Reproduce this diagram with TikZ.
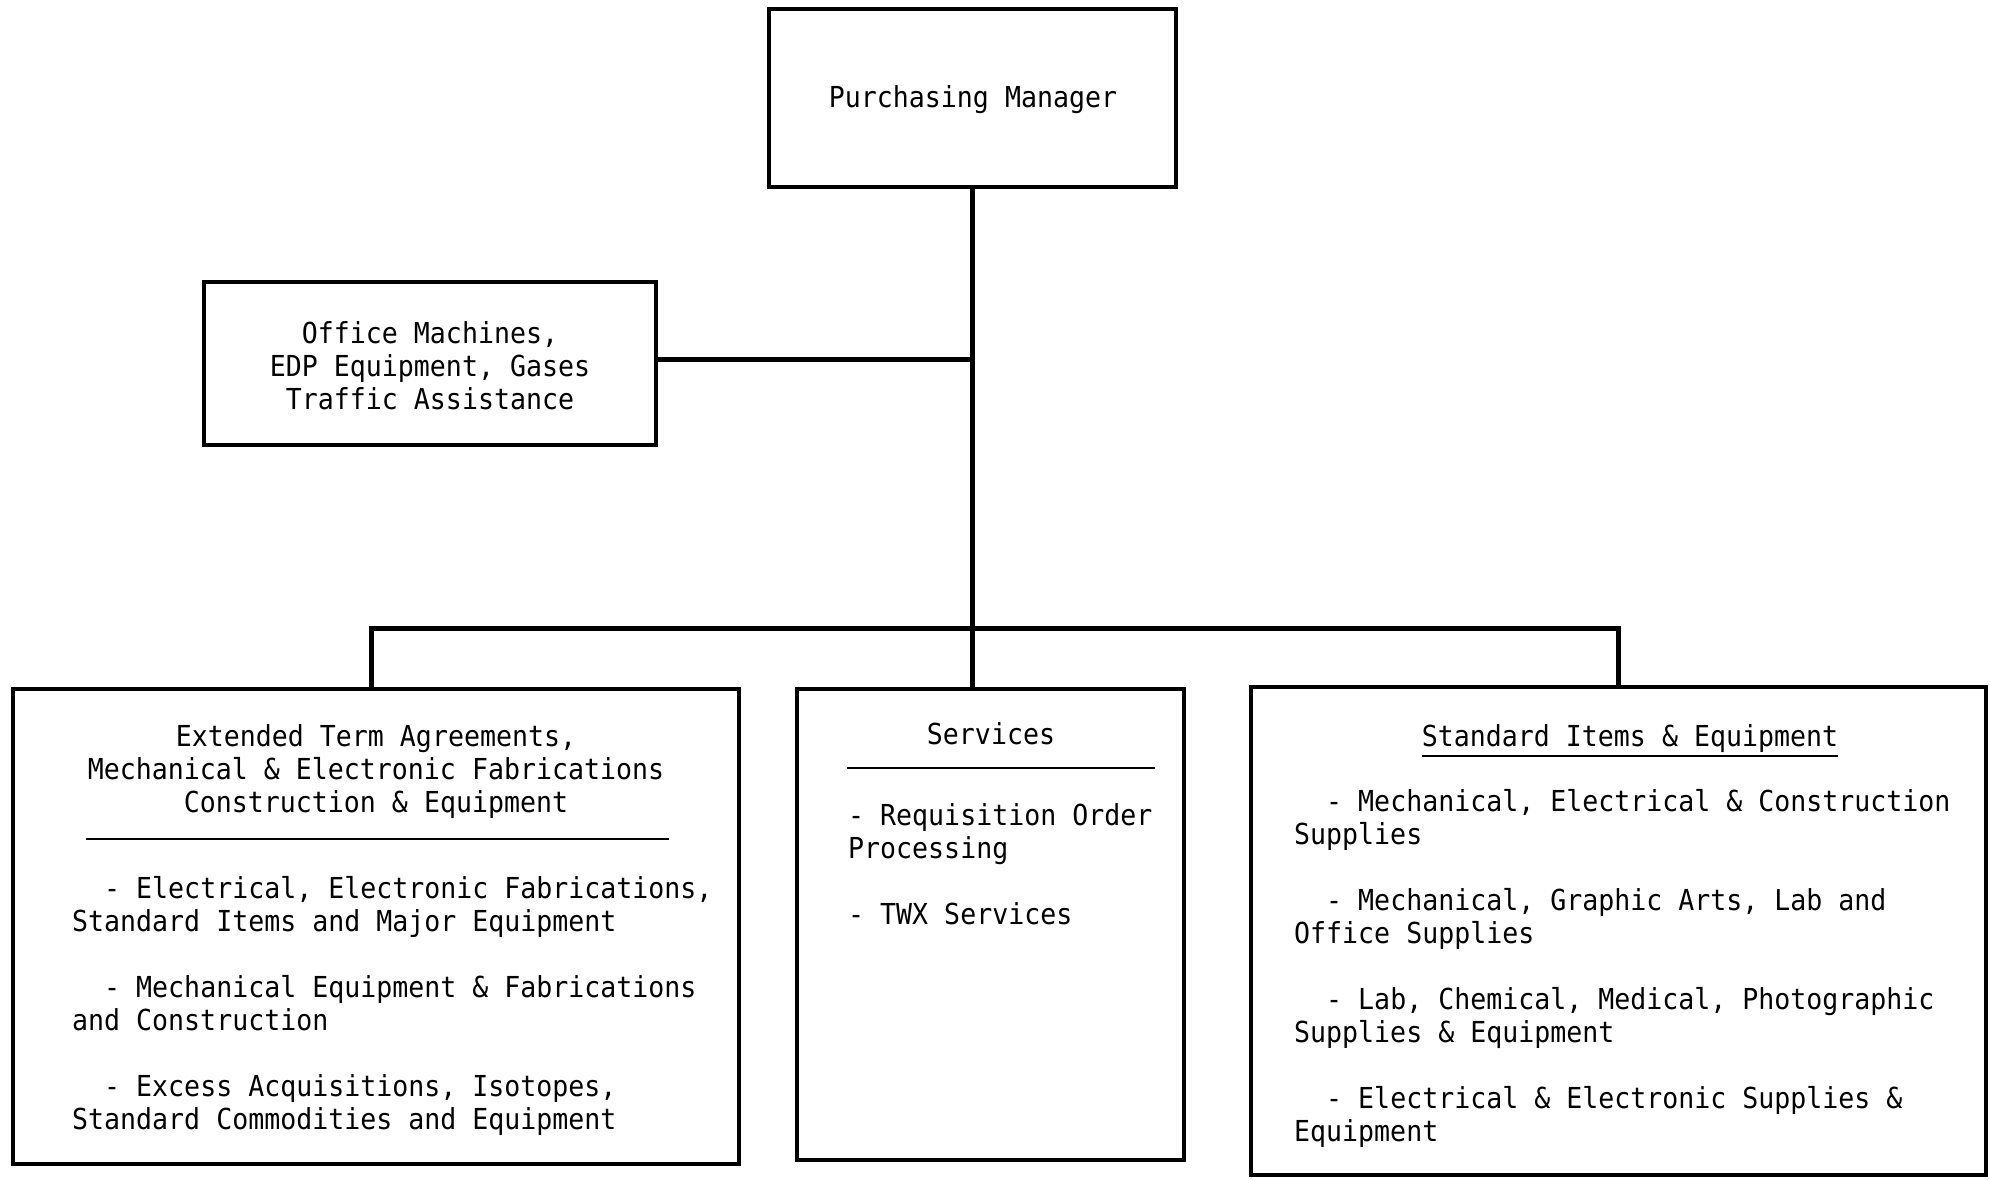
\documentclass[tikz,border=0pt]{standalone}
\usepackage{fontspec}
\newfontfamily\tw[FakeStretch=0.92]{DejaVu Sans Mono}
\begin{document}
\begin{tikzpicture}[x=1pt,y=-1pt,
  box/.style={draw=black,line width=4.5pt,inner sep=0pt},
  conn/.style={draw=black,line width=5pt},
  rulel/.style={draw=black,line width=2.5pt},
  txt/.style={inner sep=0pt,font=\tw\fontsize{28.9}{33}\selectfont},
  ttl/.style={txt,align=center},
  lst/.style={txt,align=left,anchor=north west}]
\useasboundingbox[fill=white] (0,0) rectangle (1990,1179);
% boxes
\node[box,minimum width=407pt,minimum height=178pt] (pm) at (972.5,98) {};
\node[box,minimum width=452pt,minimum height=163pt] (off) at (430,363.5) {};
\node[box,minimum width=726pt,minimum height=475pt] (lft) at (376,926.5) {};
\node[box,minimum width=387pt,minimum height=471pt] (svc) at (990.5,924.5) {};
\node[box,minimum width=735pt,minimum height=488pt] (rgt) at (1618.5,931) {};
% connectors
\coordinate (bus) at (972.5,628);
\coordinate (offj) at (656,359);
\coordinate (ldrop) at (371,628);
\draw[conn] (pm.south) -- (pm.south |- svc.north);
\draw[conn] (offj) -- (offj -| pm.south);
\draw[conn] (ldrop |- lft.north) -- (ldrop) -- (bus) -| (rgt.north);
% texts
\node[ttl] (pmt) at (973,100) {Purchasing Manager};
\node[ttl] (offt) at (430,366) {Office Machines,\\EDP Equipment, Gases\\Traffic Assistance};
\node[ttl] (lftt) at (376,772) {Extended Term Agreements,\\Mechanical \& Electronic Fabrications\\Construction \& Equipment};
\coordinate (lr1) at (86,839);
\coordinate (lr2) at (669,839);
\draw[rulel] (lr1) -- (lr2);
\node[lst] (lfti) at (72,876) {\ \ - Electrical, Electronic Fabrications,\\Standard Items and Major Equipment\\[33pt]\ \ - Mechanical Equipment \& Fabrications\\and Construction\\[33pt]\ \ - Excess Acquisitions, Isotopes,\\Standard Commodities and Equipment};
\node[ttl] (svct) at (991,734) {Services};
\coordinate (sr1) at (847,768);
\coordinate (sr2) at (1155,768);
\draw[rulel] (sr1) -- (sr2);
\node[lst] (svci) at (848,803) {- Requisition Order\\Processing\\[33pt]- TWX Services};
\node[ttl] (rgtt) at (1630,739) {Standard Items \& Equipment};
\draw[line width=2pt] ([yshift=-9pt]rgtt.base west) -- ([yshift=-9pt]rgtt.base east);
\node[lst] (rgti) at (1294,789) {\ \ - Mechanical, Electrical \& Construction\\Supplies\\[33pt]\ \ - Mechanical, Graphic Arts, Lab and\\Office Supplies\\[33pt]\ \ - Lab, Chemical, Medical, Photographic\\Supplies \& Equipment\\[33pt]\ \ - Electrical \& Electronic Supplies \&\\Equipment};
\end{tikzpicture}
\end{document}
